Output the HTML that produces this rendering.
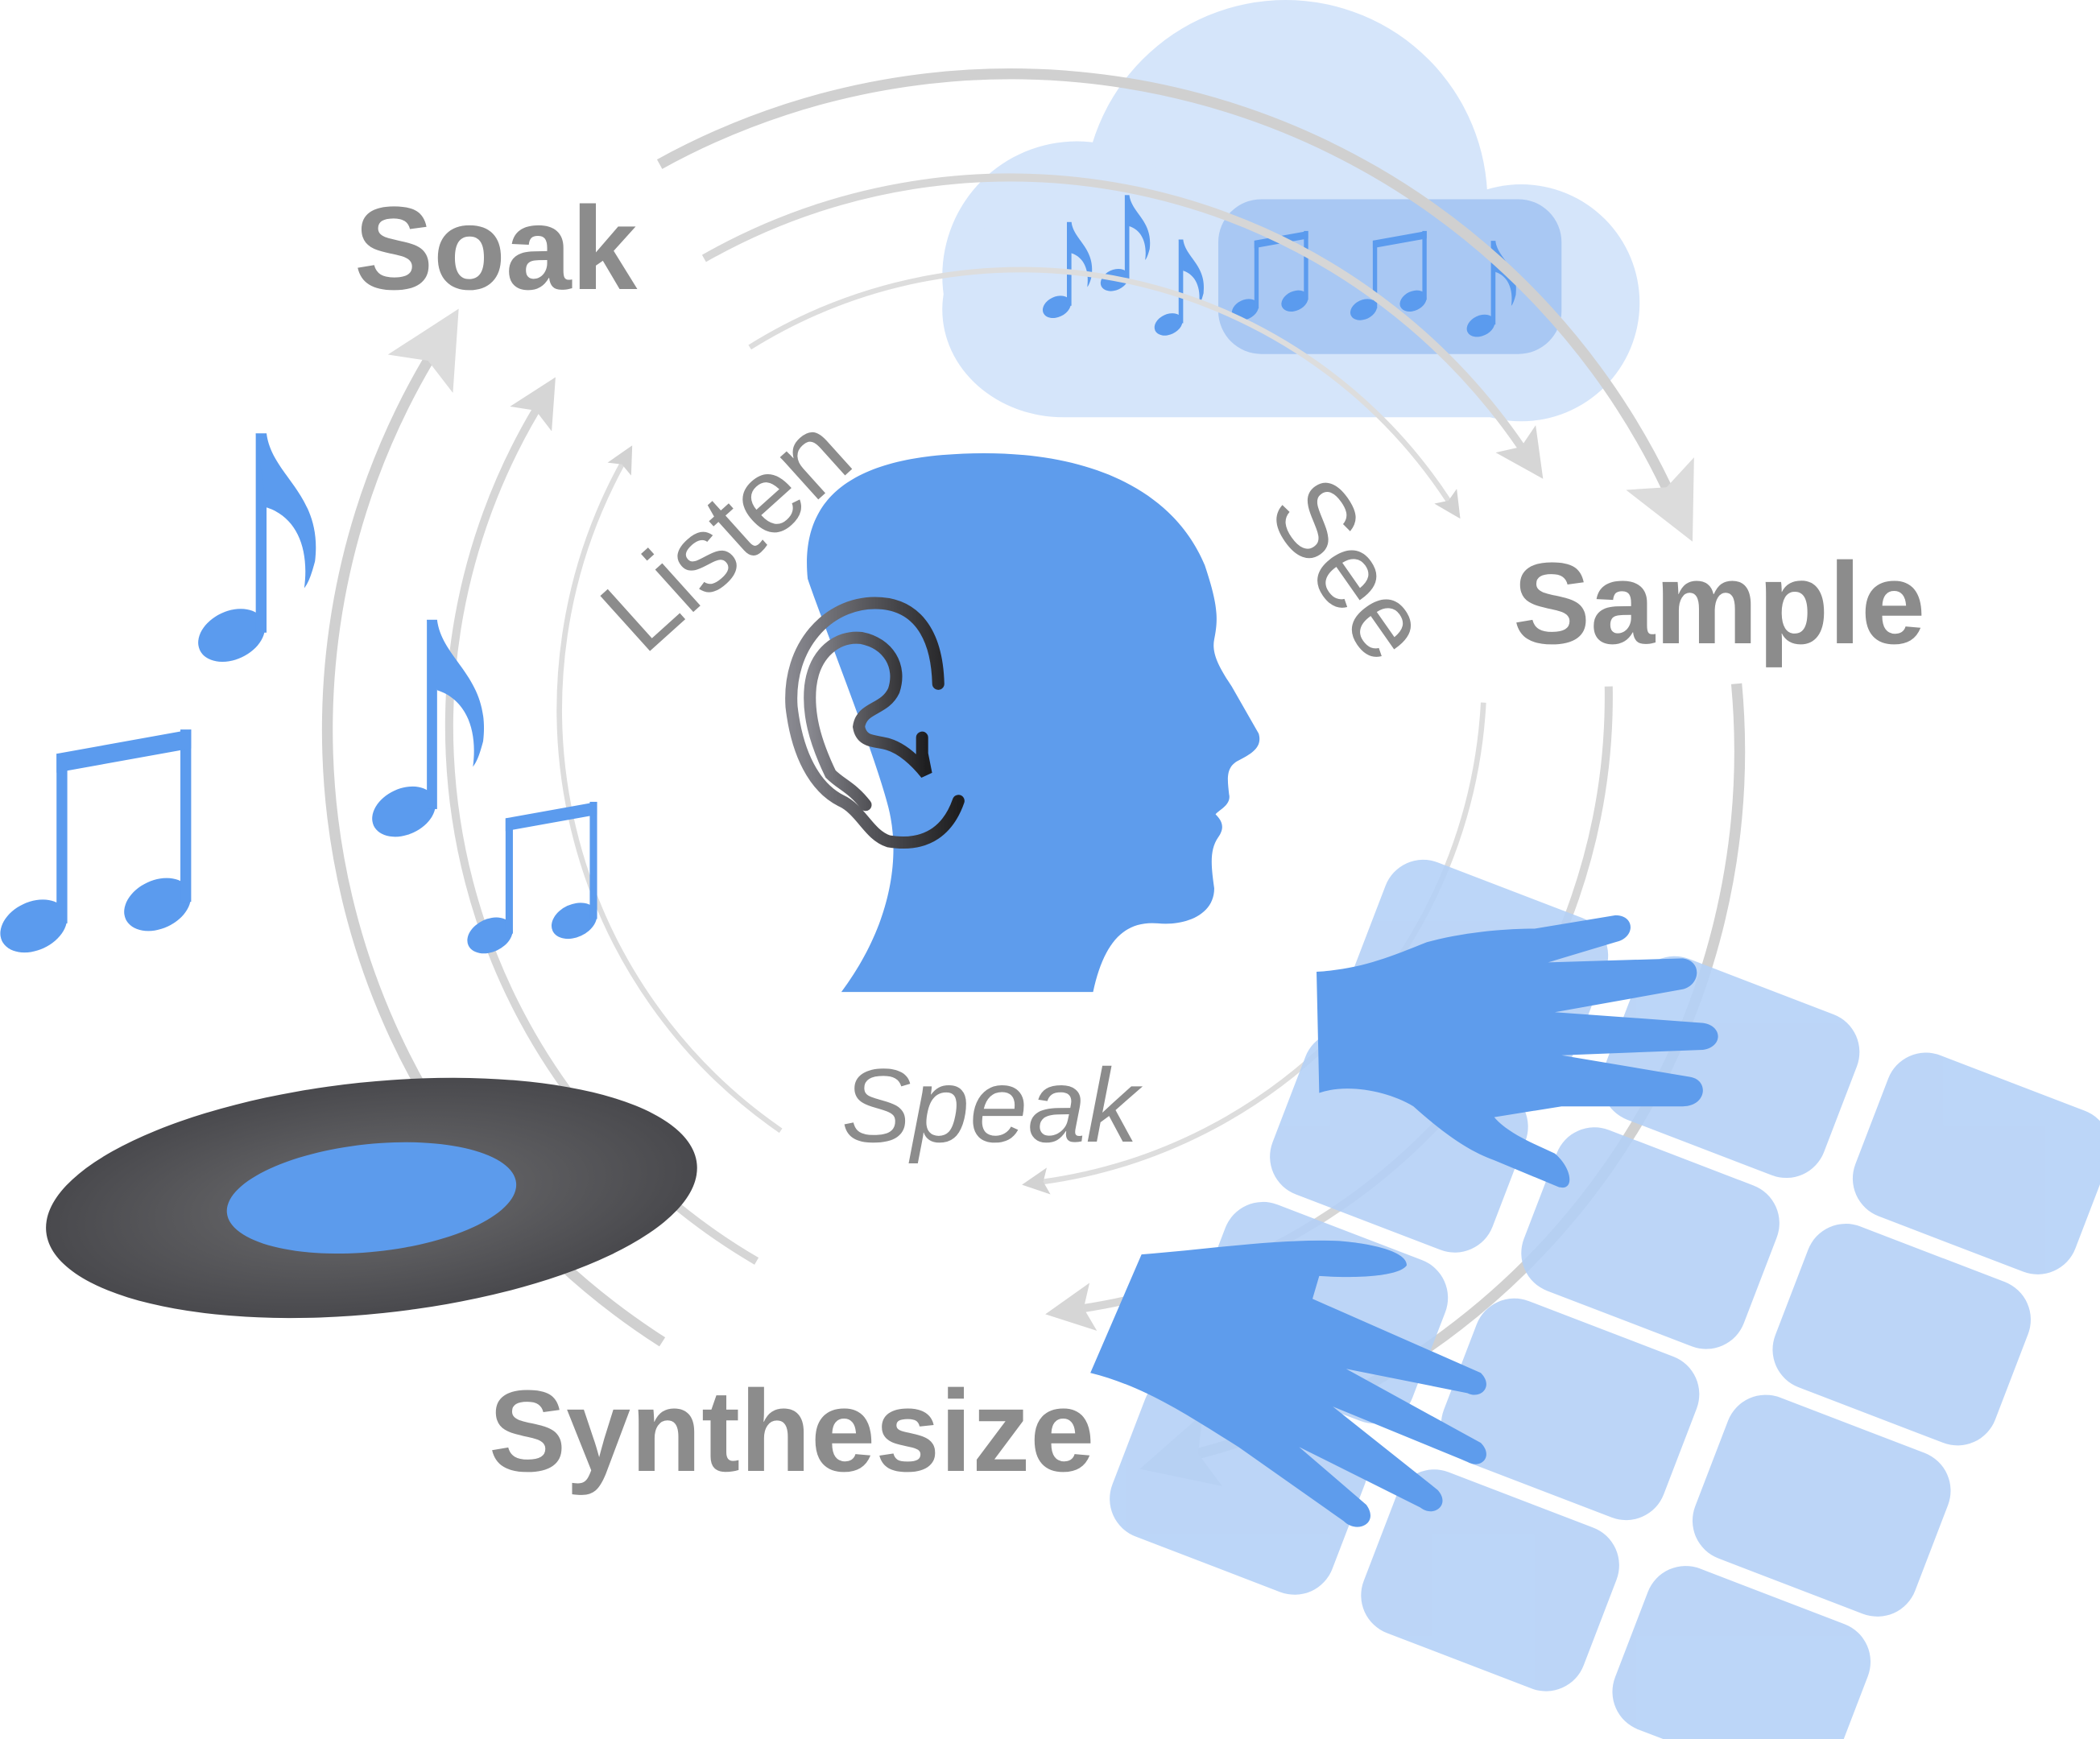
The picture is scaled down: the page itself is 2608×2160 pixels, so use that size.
<!DOCTYPE html>
<html><head><meta charset="utf-8"><style>
html,body{margin:0;padding:0;background:#fff;}
svg{display:block;}
#lab{position:absolute;left:0;top:0;}
text{font-family:"Liberation Sans",sans-serif;}
</style></head><body>
<svg width="2608" height="2160" viewBox="0 0 1560 1292" xmlns="http://www.w3.org/2000/svg">
<defs>
<radialGradient id="rec" cx="0.5" cy="0.5" r="0.5">
<stop offset="0" stop-color="#6e6e70"/><stop offset="1" stop-color="#49494d"/>
</radialGradient>
<linearGradient id="ear" x1="0" x2="1"><stop offset="0" stop-color="#88888f"/><stop offset="1" stop-color="#1e1e20"/></linearGradient>
<marker id="a1" viewBox="0 0 10 10" refX="2" refY="5" markerWidth="5" markerHeight="5" orient="auto" markerUnits="strokeWidth"><path d="M0 0L10 5L0 10L2 5Z" fill="#d2d2d2"/></marker>
<marker id="a2" viewBox="0 0 10 10" refX="2" refY="5" markerWidth="6" markerHeight="6" orient="auto" markerUnits="strokeWidth"><path d="M0 0L10 5L0 10L2 5Z" fill="#d6d6d6"/></marker>
<marker id="a3" viewBox="0 0 10 10" refX="2" refY="5" markerWidth="7" markerHeight="7" orient="auto" markerUnits="strokeWidth"><path d="M0 0L10 5L0 10L2 5Z" fill="#dcdcdc"/></marker>
<g id="n8">
<ellipse cx="0" cy="0" rx="26" ry="18" transform="rotate(-25)"/>
<rect x="18" y="-150" width="8" height="148"/>
<path d="M18 -150 L26 -150 C30 -118 68 -105 62 -55 C58 -40 56 -38 54 -35 C58 -65 48 -88 26 -95 Z"/>
</g>
<g id="n16">
<ellipse cx="0" cy="0" rx="26" ry="18" transform="rotate(-25)"/>
<ellipse cx="92" cy="-16" rx="26" ry="18" transform="rotate(-25 92 -16)"/>
<rect x="17" y="-128" width="8" height="126"/>
<rect x="109" y="-146" width="8" height="128"/>
<path d="M17 -128 L117 -146 L117 -132 L17 -114 Z"/>
</g>
</defs>

<g fill="#d5e5fa">
<circle cx="955" cy="150" r="150"/>
<circle cx="1130" cy="225" r="88"/>
<circle cx="800" cy="205" r="100"/>
<rect x="700" y="150" width="510" height="160" rx="90"/>
</g>
<rect x="905" y="148" width="255" height="115" rx="32" fill="#a9c8f3"/>
<g fill="#5b9bee">
<use href="#n8" transform="translate(785 228) scale(0.42)"/>
<use href="#n8" transform="translate(828 208) scale(0.42)"/>
<use href="#n8" transform="translate(868 241) scale(0.42)"/>
<use href="#n16" transform="translate(925 230) scale(0.4)"/>
<use href="#n16" transform="translate(1013 230) scale(0.4)"/>
<use href="#n8" transform="translate(1100 242) scale(0.42)"/>
</g>

<g fill="none" stroke-linecap="butt">
<g stroke="#d0d0d0" stroke-width="8">
<path d="M490 122 A540 540 0 0 1 1238 362" marker-end="url(#a3)"/>
<path d="M1290 508 A540 540 0 0 1 890 1080" marker-end="url(#a3)"/>
<path d="M492 997 A540 540 0 0 1 318 268" marker-end="url(#a3)"/>
</g>
<g stroke="#d6d6d6" stroke-width="6">
<path d="M523 192 A460 460 0 0 1 1130 332" marker-end="url(#a2)"/>
<path d="M1195 510 A460 460 0 0 1 805 972" marker-end="url(#a2)"/>
<path d="M562 937 A460 460 0 0 1 398 305" marker-end="url(#a2)"/>
</g>
<g stroke="#dddddd" stroke-width="4">
<path d="M557 258 A380 380 0 0 1 1076 372" marker-end="url(#a1)"/>
<path d="M1102 522 A380 380 0 0 1 775 878" marker-end="url(#a1)"/>
<path d="M580 840 A380 380 0 0 1 462 345" marker-end="url(#a1)"/>
</g>
</g>

<g transform="rotate(-6 276 890)">
<ellipse cx="276" cy="890" rx="243" ry="86" fill="url(#rec)"/>
<ellipse cx="276" cy="890" rx="108" ry="40" fill="#5c9bec"/>
</g>

<g fill="#5b9bee">
<use href="#n8" transform="translate(172 472)"/>
<use href="#n16" transform="translate(25 688)"/>
<use href="#n8" transform="translate(300 603) scale(0.95)"/>
<use href="#n16" transform="translate(364 695) scale(0.68)"/>
</g>

<g fill="#b3d0f7" opacity="0.88" transform="translate(1040 630) rotate(21)">
<rect x="0" y="0" width="175" height="128" rx="30"/>
<rect x="200" y="0" width="175" height="128" rx="30"/>
<rect x="400" y="0" width="175" height="128" rx="30"/>
<rect x="-10" y="140" width="175" height="128" rx="30"/>
<rect x="190" y="140" width="175" height="128" rx="30"/>
<rect x="390" y="140" width="175" height="128" rx="30"/>
<rect x="-20" y="280" width="175" height="128" rx="30"/>
<rect x="180" y="280" width="175" height="128" rx="30"/>
<rect x="380" y="280" width="175" height="128" rx="30"/>
<rect x="-30" y="420" width="175" height="128" rx="30"/>
<rect x="170" y="420" width="175" height="128" rx="30"/>
<rect x="370" y="420" width="175" height="128" rx="30"/>
</g>

<path d="M625 737 C660 690 670 640 660 600 C650 560 610 460 600 430 C595 380 620 345 700 338 C800 330 870 360 895 420 C905 450 905 460 902 475 C900 485 905 495 915 510 L935 545 C938 555 930 560 920 565 C910 570 912 580 913 590 C915 598 905 602 903 605 C908 610 910 615 905 622 C898 632 900 645 902 660 C902 680 880 688 860 686 C835 684 820 700 812 737 Z" fill="#5e9cec"/>
<g fill="none" stroke="url(#ear)" stroke-width="9" stroke-linecap="round">
<path d="M697 508 C696 470 680 448 650 448 C615 448 585 480 588 525 C592 560 605 585 625 595 C640 602 645 620 660 625 C690 630 705 615 712 595"/>
<path d="M643 598 C633 585 625 583 617 575 C605 550 600 530 602 510 C605 485 622 472 640 474 C660 478 670 495 664 513 C657 528 640 525 638 540 C640 552 650 550 660 553 C670 556 680 565 688 575 L685 560 L685 548"/>
</g>

<g fill="#5e9cec">
<path d="M978 722 C1010 720 1030 712 1060 700 C1090 692 1120 690 1140 690 L1200 680 C1215 680 1215 697 1200 700 L1150 715 L1250 712 C1265 714 1263 732 1250 735 L1155 752 L1265 760 C1280 762 1280 778 1265 780 L1160 784 L1255 800 C1270 802 1268 822 1250 822 L1160 822 L1110 830 C1120 842 1140 850 1155 857 C1168 868 1170 885 1158 882 L1110 862 C1090 855 1070 840 1050 822 C1030 810 1000 805 980 812 Z"/>
<path d="M848 932 C900 928 950 920 995 922 C1020 924 1045 930 1045 940 C1040 948 1010 950 980 948 L975 965 L1100 1020 C1110 1030 1100 1040 1090 1035 L1000 1017 L1100 1072 C1110 1082 1100 1092 1090 1086 L990 1045 L1068 1107 C1078 1118 1065 1128 1055 1120 L965 1075 L1015 1118 C1025 1132 1008 1140 998 1130 L920 1075 C880 1050 850 1030 810 1020 Z"/>
</g>
</svg>

<svg id="lab" width="2608" height="2160" xmlns="http://www.w3.org/2000/svg">
<g fill="#8c8c8c">
<text x="440" y="359" font-size="147" font-weight="bold">Soak</text>
<text x="1879" y="799" font-size="144" font-weight="bold">Sample</text>
<text x="607" y="1827" font-size="144" font-weight="bold">Synthesize</text>
<text x="1045" y="1418" font-size="130" font-style="italic">Speak</text>
<text x="0" y="0" font-size="134" transform="translate(799 816) rotate(-42)">Listen</text>
<text x="0" y="0" font-size="134" transform="translate(1571 635) rotate(55)">See</text>
</g>
</svg>
</body></html>
